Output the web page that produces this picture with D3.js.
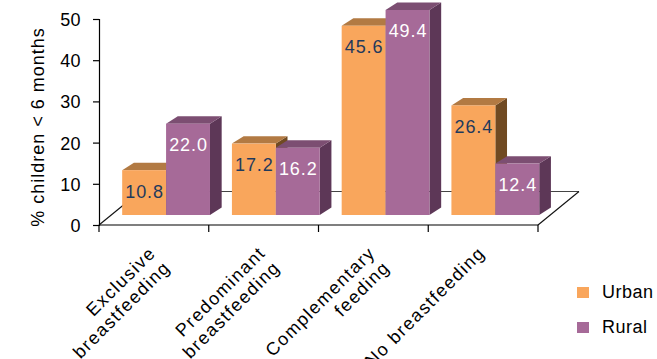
<!DOCTYPE html>
<html>
<head>
<meta charset="utf-8">
<script src="https://cdn.jsdelivr.net/npm/d3@7/dist/d3.min.js"></script>
<style>
  html, body { margin: 0; padding: 0; background: #fff; }
  svg { display: block; font-family: "Liberation Sans", Arial, Helvetica, sans-serif; }
</style>
</head>
<body>
<svg id="chart" width="657" height="359"></svg>
<script>
// Feeding practices among children under 6 months, urban vs rural (%)
const categories = [
  ["Exclusive", "breastfeeding"],
  ["Predominant", "breastfeeding"],
  ["Complementary", "feeding"],
  ["No breastfeeding"]
];
const series = ["Urban", "Rural"];
const urbanValues = [10.8, 17.2, 45.6, 26.4];
const ruralValues = [22.0, 16.2, 49.4, 12.4];
const yTicks = [0, 10, 20, 30, 40, 50];
const yTitle = "% children < 6 months";

const palette = {
  Urban: { front: "#F9A65C", top: "#B27A43", side: "#704A22", text: "#1F3A5C" },
  Rural: { front: "#A66A98", top: "#7C4E72", side: "#5D3757", text: "#FFFFFF" }
};

const svg = d3.select("#chart");
const catKeys = categories.map(c => c.join(" "));
const valuesBy = { Urban: urbanValues, Rural: ruralValues };

// axis plane (front edge of floor) and the bar plane a little further back
const y = d3.scaleLinear().domain([0, 50]).range([225, 19]);
const yBar = d3.scaleLinear().domain([0, 50]).range([215, 7.5]);
const x0 = d3.scaleBand().domain(catKeys).range([99, 538]).padding(0);
const bw = x0.bandwidth();
const x1 = d3.scaleBand().domain(series).range([bw * 0.1, bw * 0.9]).padding(0);

const floorDepth = { dx: 41, dy: -33.5 };
const barShift = 12.2;           // horizontal shift of bar fronts into the floor
const barDepth = { dx: 11.7, dy: -7.4 };

// floor
const fl = x0.range()[0], fr = x0.range()[1], fy = y(0);
svg.append("polygon")
  .attr("points", [
    [fl, fy], [fr, fy], [fr + floorDepth.dx, fy + floorDepth.dy], [fl + floorDepth.dx, fy + floorDepth.dy]
  ].map(p => p.join(",")).join(" "))
  .attr("fill", "#fff").attr("stroke", "none");
svg.append("line")
  .attr("x1", fl + floorDepth.dx).attr("y1", fy + floorDepth.dy)
  .attr("x2", fr + floorDepth.dx).attr("y2", fy + floorDepth.dy)
  .attr("stroke", "#444").attr("stroke-width", 1.2);
svg.append("line")
  .attr("x1", fl).attr("y1", fy)
  .attr("x2", fl + floorDepth.dx).attr("y2", fy + floorDepth.dy)
  .attr("stroke", "#111").attr("stroke-width", 1.1);
svg.append("line")
  .attr("x1", fr).attr("y1", fy)
  .attr("x2", fr + floorDepth.dx).attr("y2", fy + floorDepth.dy)
  .attr("stroke", "#111").attr("stroke-width", 1.1);

// bars
const pts = a => a.map(p => p.join(",")).join(" ");
catKeys.forEach((cat, i) => {
  series.forEach(s => {
    const v = valuesBy[s][i];
    const col = palette[s];
    const xl = x0(cat) + x1(s) + barShift;
    const xr = xl + x1.bandwidth();
    const top = yBar(v), bot = yBar(0);
    const { dx, dy } = barDepth;
    const g = svg.append("g").attr("class", "bar");
    g.append("polygon").attr("fill", col.side)
      .attr("points", pts([[xr, top], [xr + dx, top + dy], [xr + dx, bot + dy], [xr, bot]]));
    g.append("polygon").attr("fill", col.top)
      .attr("points", pts([[xl, top], [xr, top], [xr + dx, top + dy], [xl + dx, top + dy]]));
    g.append("rect").attr("fill", col.front)
      .attr("x", xl).attr("y", top).attr("width", xr - xl).attr("height", bot - top);
    g.append("text")
      .attr("x", (xl + xr) / 2 + 0.5).attr("y", top + 27.5)
      .attr("text-anchor", "middle")
      .attr("font-size", 18).attr("letter-spacing", 0.9)
      .attr("fill", col.text)
      .text(v.toFixed(1));
  });
});

// front floor edge / category axis
svg.append("line")
  .attr("x1", fl).attr("y1", fy).attr("x2", fr).attr("y2", fy)
  .attr("stroke", "#000").attr("stroke-width", 1.2);
const boundaries = catKeys.map(c => x0(c)).concat([fr]);
svg.selectAll("line.xtick").data(boundaries).enter().append("line")
  .attr("class", "xtick")
  .attr("x1", d => d).attr("x2", d => d)
  .attr("y1", fy).attr("y2", fy + 7)
  .attr("stroke", "#000").attr("stroke-width", 1.2);

// value axis
const yAxis = d3.axisLeft(y).tickValues(yTicks).tickSize(6).tickPadding(12).tickFormat(d3.format("d"));
const ya = svg.append("g").attr("transform", `translate(${fl},0)`).call(yAxis);
ya.select(".domain").attr("stroke", "#000").attr("stroke-width", 1.2);
ya.selectAll(".tick line").attr("stroke", "#000").attr("stroke-width", 1.2);
ya.selectAll(".tick text")
  .attr("font-size", 18).attr("letter-spacing", 0.4)
  .attr("font-family", "Liberation Sans, Arial, sans-serif")
  .attr("fill", "#000").attr("dy", "0.36em");

svg.append("text")
  .attr("transform", `translate(44,127) rotate(-90)`)
  .attr("text-anchor", "middle")
  .attr("font-size", 18).attr("letter-spacing", 1)
  .attr("fill", "#000")
  .text(yTitle);

// category labels, rotated
categories.forEach((lines, i) => {
  const cx = x0(catKeys[i]) + bw / 2;
  const g = svg.append("g").attr("transform", `translate(${cx + 3},254) rotate(-45)`);
  lines.forEach((ln, j) => {
    g.append("text")
      .attr("x", 0).attr("y", j * 20.5)
      .attr("text-anchor", "end")
      .attr("font-size", 18).attr("letter-spacing", 1.5)
      .attr("fill", "#000")
      .text(ln);
  });
});

// legend
const legend = svg.append("g");
series.forEach((s, i) => {
  const ly = 287 + i * 35;
  legend.append("rect")
    .attr("x", 577).attr("y", ly).attr("width", 12).attr("height", 11)
    .attr("fill", palette[s].front);
  legend.append("text")
    .attr("x", 602).attr("y", ly + 10.5)
    .attr("font-size", 18).attr("letter-spacing", 0.5)
    .attr("fill", "#000")
    .text(s);
});
</script>
</body>
</html>
